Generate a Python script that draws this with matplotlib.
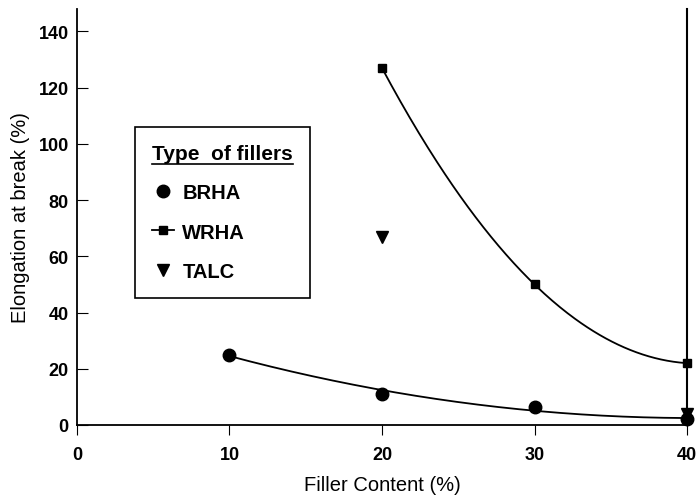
import numpy as np
import matplotlib
matplotlib.use('Agg')
from matplotlib import pyplot as plt
from matplotlib.lines import Line2D

plt.rcParams['font.family'] = ['Liberation Sans', 'DejaVu Sans']

# values
filler = [10, 20, 30, 40]
brha = [25, 11, 6.5, 2]
wrha_x = [20, 30, 40]
wrha = [127, 50, 22]
talc_x = [20, 40]
talc = [67, 4]

x_ticks = [0, 10, 20, 30, 40]
y_ticks = [0, 20, 40, 60, 80, 100, 120, 140]

fig = plt.figure(figsize=(6.96, 5.02), dpi=100)
ax = fig.add_axes([0.1106, 0.1514, 0.8765, 0.8287])

# smooth trend curves (quadratic fits through the points)
xb = np.linspace(10, 40, 200)
ax.plot(xb, np.polyval(np.polyfit(filler, brha, 2), xb), color='k', lw=1.3)
xw = np.linspace(20, 40, 200)
ax.plot(xw, np.polyval(np.polyfit(wrha_x, wrha, 2), xw), color='k', lw=1.3)

h1, = ax.plot(filler, brha, 'o', color='k', ms=9, ls='none', clip_on=False, zorder=5)
ax.plot(wrha_x, wrha, 's', color='k', ms=6, ls='none', clip_on=False, zorder=5)
h3, = ax.plot(talc_x, talc, 'v', color='k', ms=8, ls='none', clip_on=False, zorder=5)
h2 = Line2D([], [], color='k', marker='s', ms=6, lw=1.3)

ax.set_xlim(0, 40)
ax.set_ylim(0, 148)
ax.set_xticks(x_ticks)
ax.set_yticks(y_ticks)
ax.spines['top'].set_visible(False)
ax.spines['right'].set_linewidth(1.5)
ax.spines['left'].set_linewidth(1.3)
ax.spines['bottom'].set_linewidth(1.3)
ax.tick_params(axis='y', direction='in', length=8, labelsize=13, pad=6)
ax.tick_params(axis='x', direction='out', length=7, labelsize=13, pad=8)
for lab in ax.get_xticklabels() + ax.get_yticklabels():
    lab.set_fontweight('bold')

ax.set_xlabel('Filler Content (%)', fontsize=14.5, labelpad=9)
ax.set_ylabel('Elongation at break (%)', fontsize=14.5, labelpad=6)

leg = ax.legend([h1, h2, h3], ['BRHA', 'WRHA', 'TALC'],
                title='Type  of fillers', loc='upper right',
                bbox_to_anchor=(0.382, 0.716), fancybox=False,
                edgecolor='k', framealpha=1, borderpad=0.85,
                labelspacing=1.0, handlelength=1.1, handletextpad=0.4,
                borderaxespad=0,
                prop={'size': 14.5, 'weight': 'bold'},
                title_fontproperties={'size': 15, 'weight': 'bold'})
leg._legend_box.align = 'left'
leg.get_frame().set_linewidth(1.2)

# underline the legend title
fig.canvas.draw()
bb = leg.get_title().get_window_extent().transformed(fig.transFigure.inverted())
fig.add_artist(Line2D([bb.x0, bb.x1], [bb.y0 - 0.002, bb.y0 - 0.002],
                      color='k', lw=1.2, transform=fig.transFigure))

fig.savefig('out.png', dpi=100)
